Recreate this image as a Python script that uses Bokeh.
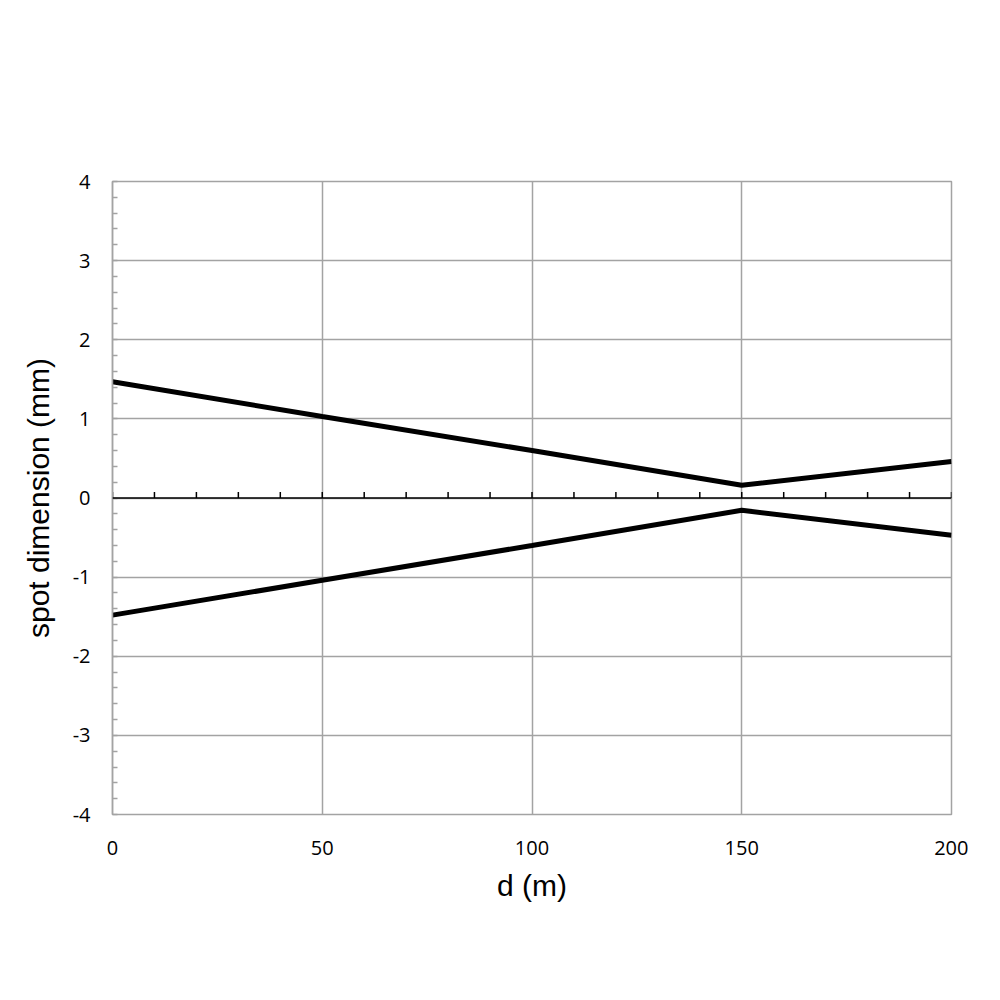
import numpy as np

from bokeh.embed import file_html
from bokeh.models import FixedTicker, Range1d, Span
from bokeh.plotting import figure
from bokeh.resources import INLINE

# distance along the beam (m) and half spot size (mm)
d = [0, 50, 100, 150, 200]
upper = [1.47, 1.03, 0.60, 0.16, 0.46]
lower = [-1.48, -1.04, -0.60, -0.155, -0.47]

x_ticks = [0, 50, 100, 150, 200]
y_ticks = [-4, -3, -2, -1, 0, 1, 2, 3, 4]
zero_ticks = list(range(0, 201, 10))

GREY = "#a3a3a3"
TICK_FONT = "Open Sans"
LABEL_FONT = "Liberation Sans"

p = figure(
    width=968, height=928,
    x_range=Range1d(0, 200), y_range=Range1d(-4, 4),
    output_backend="svg", toolbar_location=None, tools="",
    min_border_left=112, min_border_right=17,
    min_border_top=181, min_border_bottom=114,
)
p.background_fill_color = "white"
p.border_fill_color = "white"
p.outline_line_color = GREY
p.outline_line_width = 1.5

# bottom axis: labels only
p.xaxis.ticker = FixedTicker(ticks=x_ticks)
p.xaxis.axis_line_color = None
p.xaxis.major_tick_line_color = None
p.xaxis.minor_tick_line_color = None
p.xaxis.major_label_standoff = 20
p.xaxis.major_label_text_font = TICK_FONT
p.xaxis.major_label_text_font_size = "20px"
p.xaxis.major_label_text_color = "black"
p.xaxis.axis_label = "d (m)"
p.xaxis.axis_label_text_font = LABEL_FONT
p.xaxis.axis_label_text_font_size = "30px"
p.xaxis.axis_label_text_font_style = "normal"
p.xaxis.axis_label_text_color = "black"
p.xaxis.axis_label_standoff = 11

# left axis with inner minor ticks
p.yaxis.ticker = FixedTicker(ticks=y_ticks,
                             minor_ticks=list(np.round(np.arange(-4, 4.01, 0.2), 1)))
p.yaxis.major_label_overrides = {t: str(t) for t in y_ticks}
p.yaxis.axis_line_color = GREY
p.yaxis.axis_line_width = 1.5
p.yaxis.major_tick_in = 0
p.yaxis.major_tick_out = 0
p.yaxis.minor_tick_in = 5
p.yaxis.minor_tick_out = 0
p.yaxis.minor_tick_line_color = GREY
p.yaxis.minor_tick_line_width = 1.5
p.yaxis.major_label_standoff = 22
p.yaxis.major_label_text_font = TICK_FONT
p.yaxis.major_label_text_font_size = "20px"
p.yaxis.major_label_text_color = "black"
p.yaxis.axis_label = "spot dimension (mm)"
p.yaxis.axis_label_text_font = LABEL_FONT
p.yaxis.axis_label_text_font_size = "30px"
p.yaxis.axis_label_text_font_style = "normal"
p.yaxis.axis_label_text_color = "black"
p.yaxis.axis_label_standoff = 15

p.xgrid.ticker = FixedTicker(ticks=x_ticks)
p.ygrid.ticker = FixedTicker(ticks=y_ticks)
p.grid.grid_line_color = GREY
p.grid.grid_line_width = 1.5

# axis through zero with small upward ticks (about 6 px tall)
tick_h = 6 * 8 / 633
p.add_layout(Span(location=0, dimension="width", line_color="black", line_width=1.5))
p.segment(x0=zero_ticks, y0=[0] * len(zero_ticks),
          x1=zero_ticks, y1=[tick_h] * len(zero_ticks),
          line_color="black", line_width=1.5)

p.line(d, upper, line_color="black", line_width=5)
p.line(d, lower, line_color="black", line_width=5)

open("out.html", "w").write(file_html(p, INLINE))
